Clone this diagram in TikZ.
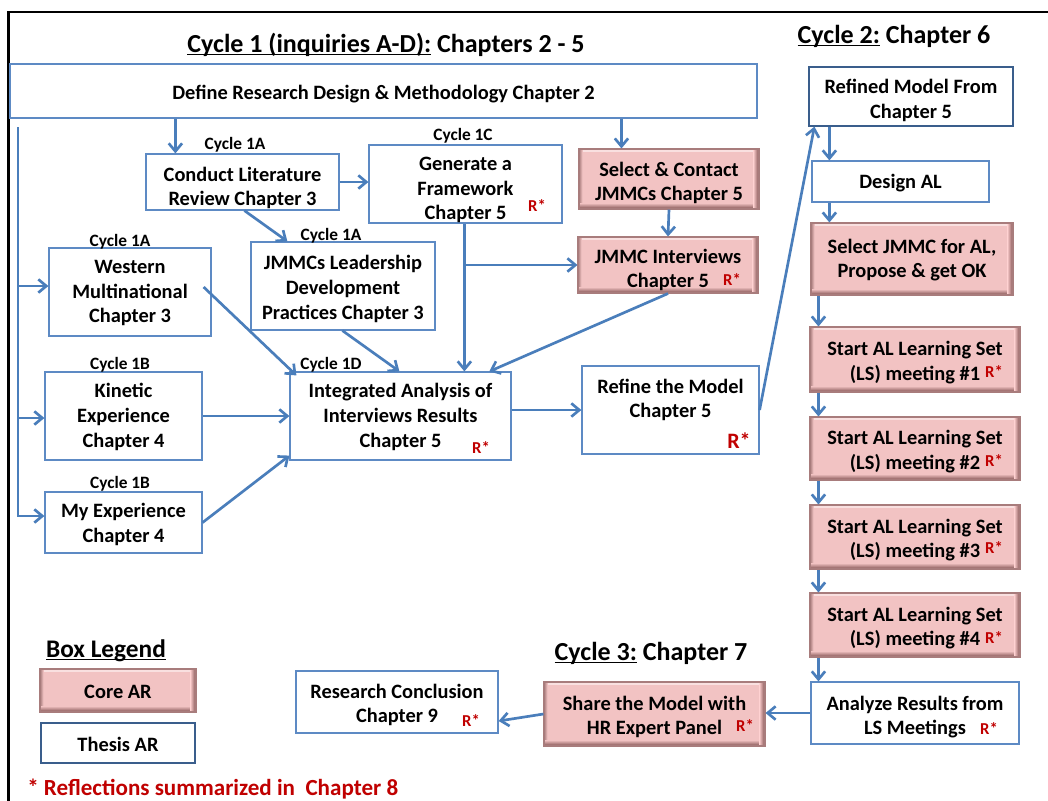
\documentclass[tikz,border=0pt]{standalone}
\usepackage{fontspec}
\setmainfont{Carlito}
\usetikzlibrary{arrows.meta,calc}

\newlength\pxu
\setlength\pxu{0.75pt}

\definecolor{arrowblue}{HTML}{4A7EBB}
\definecolor{boxblue}{HTML}{5D8AC4}
\definecolor{navyblue}{HTML}{3A5E8C}
\definecolor{corefill}{HTML}{F2C3C3}
\definecolor{coredark}{HTML}{7E4E4E}
\definecolor{coreedge}{HTML}{A87C7C}
\definecolor{corelight}{HTML}{F9E0E0}
\definecolor{rstarred}{HTML}{C00000}

% underline with a fixed offset below the baseline
\newcommand\ulined[1]{\setbox0\hbox{#1}\rlap{\rule[-2.2pt]{\wd0}{1pt}}\box0\relax}

% box given by its corners (x1,y1) and (x2,y2), in pixel units;
% the optional argument lowers the text inside it (pixels)
\newcommand\boxnode[8][3]{%
  \node[#2, minimum width={(#6-#4)*0.75pt}, minimum height={(#7-#5)*0.75pt}]
    (#3) at ({(#4+#6)/2},{(#5+#7)/2}) {};
  \node[txt] (#3 text) at ([yshift=-#1\pxu]#3.center) {#8};}

\tikzset{
  txt/.style={font=\fontsize{15.3}{18.6}\selectfont\bfseries, align=center, inner sep=0pt},
  thesisbox/.style={draw=boxblue, line width=0.9pt, fill=white, inner sep=0pt},
  navybox/.style={thesisbox, draw=navyblue},
  corebox/.style={fill=corefill, draw=coreedge, line width=0.8pt, inner sep=0pt,
    path picture={
      \fill[corelight] (path picture bounding box.north west) rectangle ([yshift=-2.5pt]path picture bounding box.north east);
      \shade[left color=coreedge, right color=corefill] (path picture bounding box.north west) rectangle ([xshift=2.5pt]path picture bounding box.south west);
      \shade[top color=corefill, bottom color=coredark] ([yshift=4.5pt]path picture bounding box.south west) rectangle (path picture bounding box.south east);
      \shade[left color=corefill, right color=coredark] ([xshift=-4pt]path picture bounding box.north east) rectangle (path picture bounding box.south east);
    }},
  conn/.style={draw=arrowblue, line width=2pt, -{Straight Barb[length=6pt,width=10pt]}},
  cyclelabel/.style={font=\fontsize{13}{15}\selectfont\bfseries, anchor=base, inner sep=0pt},
  rstar/.style={font=\fontsize{12.5}{14}\selectfont\bfseries, text=rstarred, anchor=base, inner sep=0pt},
  bigrstar/.style={rstar, font=\fontsize{16.5}{18}\selectfont\bfseries},
  heading/.style={font=\fontsize{19.5}{22}\selectfont\bfseries, anchor=base, inner sep=0pt},
  notetext/.style={font=\fontsize{17.3}{20}\selectfont\bfseries, text=rstarred, anchor=base west, inner sep=0pt},
}

\begin{document}
\begin{tikzpicture}[x=0.75pt, y=-0.75pt]
\useasboundingbox (0,0) rectangle (1048,800);
\clip (0,0) rectangle (1048,800);
\fill[white] (0,0) rectangle (1048,800);

% outer frame
\draw[line width=1.9pt] (8.7,830) -- (8.7,12) -- (1070,12);

% headings
\node[heading] (title1) at (386,52) {\ulined{Cycle 1 (inquiries A-D):} Chapters 2 - 5};
\node[heading] (title2) at (894,43) {\ulined{Cycle 2:} Chapter 6};
\node[heading] (title3) at (651,660) {\ulined{Cycle 3:} Chapter 7};
\node[heading, font=\fontsize{19}{22}\selectfont\bfseries] (legend) at (106,657) {\ulined{Box Legend}};
\node[notetext] (footnote) at (27,795) {* Reflections summarized in\ \ Chapter 8};

% cycle 1 boxes
\boxnode{thesisbox}{define}{10}{64}{757}{118}{Define Research Design \& Methodology Chapter 2}
\boxnode[6]{thesisbox}{conduct}{146}{154}{339}{210}{Conduct Literature\\Review Chapter 3}
\boxnode[6]{thesisbox}{gen}{369}{145}{562}{223}{Generate a\\Framework\\Chapter 5}
\boxnode[4]{corebox}{selc}{579}{149}{759}{209}{Select \& Contact\\JMMCs Chapter 5}
\boxnode[5]{corebox}{jmmci}{578}{237}{758}{293}{JMMC Interviews\\Chapter 5}
\boxnode[1]{thesisbox}{western}{49}{248}{211}{336}{Western\\Multinational\\Chapter 3}
\boxnode{thesisbox}{jmmcs}{251}{242}{435}{330}{JMMCs Leadership\\Development\\Practices Chapter 3}
\boxnode[1]{thesisbox}{kinetic}{45}{372}{202}{460}{Kinetic\\Experience\\Chapter 4}
\boxnode[2]{thesisbox}{myexp}{45}{492}{202}{553}{My Experience\\Chapter 4}
\boxnode[1]{thesisbox}{integ}{290}{372}{511}{460}{Integrated Analysis of\\Interviews Results\\Chapter 5}
\boxnode[-10]{thesisbox}{refine}{582}{366}{759}{454}{Refine the Model\\Chapter 5}

% cycle 2 boxes
\boxnode[4]{navybox}{refmodel}{809}{67}{1013}{126}{Refined Model From\\Chapter 5}
\boxnode[2]{thesisbox}{design}{812}{161}{989}{202}{Design AL}
\boxnode[1]{corebox}{seljal}{811}{223}{1013}{295}{Select JMMC for AL,\\Propose \& get OK}
\boxnode{corebox}{ls1}{810}{327}{1020}{392}{Start AL Learning Set\\(LS) meeting \#1}
\boxnode{corebox}{ls2}{810}{417}{1020}{480}{Start AL Learning Set\\(LS) meeting \#2}
\boxnode{corebox}{ls3}{810}{505}{1020}{569}{Start AL Learning Set\\(LS) meeting \#3}
\boxnode{corebox}{ls4}{810}{593}{1020}{657}{Start AL Learning Set\\(LS) meeting \#4}
\boxnode[4]{thesisbox}{analyze}{811}{682}{1019}{744}{Analyze Results from\\LS Meetings}

% cycle 3 boxes
\boxnode{corebox}{share}{544}{682}{765}{746}{Share the Model with\\HR Expert Panel}
\boxnode{thesisbox}{concl}{296}{671}{498}{733}{Research Conclusion\\Chapter 9}

% legend boxes
\boxnode[1]{corebox}{coreleg}{40}{669}{196}{712}{Core AR}
\boxnode[1]{navybox}{thesisleg}{41}{723}{195}{763}{Thesis AR}

% inquiry labels
\node[cyclelabel] (labconduct) at (235,149) {Cycle 1A};
\node[cyclelabel] (labgen) at (463,140) {Cycle 1C};
\node[cyclelabel] (labwestern) at (120,246) {Cycle 1A};
\node[cyclelabel] (labjmmcs) at (331,240) {Cycle 1A};
\node[cyclelabel] (labkinetic) at (120,369) {Cycle 1B};
\node[cyclelabel] (labinteg) at (331,369) {Cycle 1D};
\node[cyclelabel] (labmyexp) at (120,488) {Cycle 1B};

% reflection marks
\node[rstar] (rgen) at (537,211) {R*};
\node[rstar] (rjmmci) at (732,285) {R*};
\node[rstar] (rinteg) at (481,453) {R*};
\node[bigrstar] (rrefine) at (739,448) {R*};
\node[rstar] (rls1) at (994,377) {R*};
\node[rstar] (rls2) at (994,466) {R*};
\node[rstar] (rls3) at (994,553) {R*};
\node[rstar] (rls4) at (994,643) {R*};
\node[rstar] (ranalyze) at (989,734) {R*};
\node[rstar] (rshare) at (745,731) {R*};
\node[rstar] (rconcl) at (471,726) {R*};

% left feed line
\coordinate (bustop) at (18,127);
\draw[conn] (bustop) |- ([yshift=6\pxu]western.west);
\draw[conn] (bustop) |- ([yshift=-2\pxu]kinetic.west);
\draw[conn] (bustop) |- ([yshift=6.5\pxu]myexp.west);

% cycle 1 connectors
\path ([xshift=30\pxu]conduct.north west) coordinate (dc);
\draw[conn] (dc |- define.south) -- (dc);
\path ([xshift=43\pxu]selc.north west) coordinate (ds);
\draw[conn] (ds |- define.south) -- (ds);
\draw[conn] (conduct.east) -- (conduct.east -| gen.west);
\draw[conn] ([xshift=99\pxu]conduct.south west) -- ([xshift=37\pxu]jmmcs.north west);
\path ([xshift=96\pxu]gen.south west) coordinate (gi);
\draw[conn] (gi) -- (gi |- integ.north);
\draw[conn] (gi |- jmmci.west) -- (jmmci.west);
\draw[conn] (selc.south) -- (jmmci.north);
\draw[conn] (jmmci.south) -- ([xshift=200\pxu]integ.north west);
\draw[conn] ([xshift=-8\pxu,yshift=5\pxu]western.east) -- ([xshift=7\pxu,yshift=-4\pxu]integ.north west);
\draw[conn] ([xshift=92\pxu]jmmcs.south west) -- ([xshift=110\pxu]integ.north west);
\draw[conn] (kinetic.east) -- (kinetic.east -| integ.west);
\draw[conn] (myexp.east) -- ([yshift=5\pxu]integ.south west);
\draw[conn] (refine.west -| integ.east) -- (refine.west);

% cycle 2 connectors
\draw[conn] (refine.east) -- ([xshift=6\pxu]refmodel.south west);
\path ([xshift=21\pxu]refmodel.south west) coordinate (rd);
\draw[conn] (rd) -- (rd |- design.north);
\draw[conn] (rd |- design.south) -- (rd |- seljal.north);
\path ([xshift=9\pxu]ls1.north west) coordinate (lx);
\draw[conn] (lx |- seljal.south) -- (lx |- ls1.north);
\draw[conn] (lx |- ls1.south) -- (lx |- ls2.north);
\draw[conn] (lx |- ls2.south) -- (lx |- ls3.north);
\draw[conn] (lx |- ls3.south) -- (lx |- ls4.north);
\draw[conn] (lx |- ls4.south) -- (lx |- analyze.north);

% cycle 3 connectors
\draw[conn] (analyze.west) -- (analyze.west -| share.east);
\draw[conn] (share.west) -- ([yshift=-19\pxu]concl.east);
\end{tikzpicture}
\end{document}
